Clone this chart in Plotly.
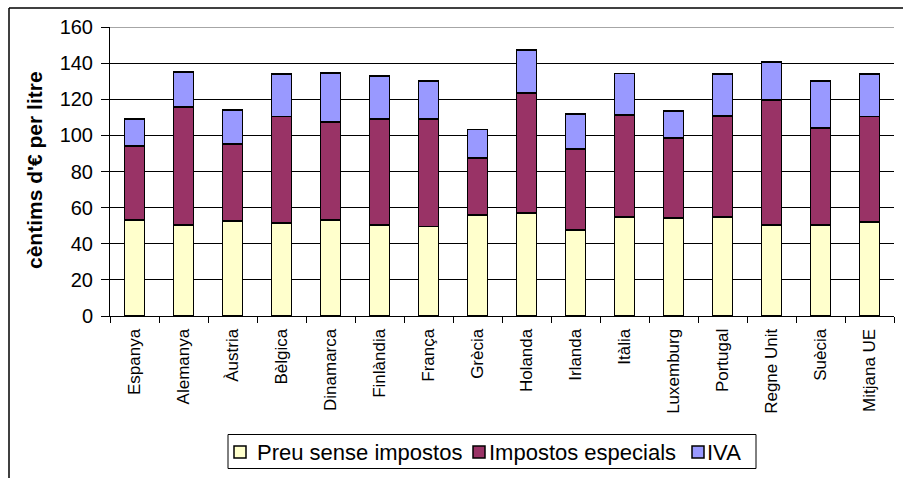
import plotly.graph_objects as go

# Fuel price breakdown per country (euro cents per litre)
countries = ["Espanya", "Alemanya", "Àustria", "Bèlgica", "Dinamarca", "Finlàndia",
             "França", "Grècia", "Holanda", "Irlanda", "Itàlia", "Luxemburg",
             "Portugal", "Regne Unit", "Suècia", "Mitjana UE"]
preu_sense_impostos = [53.3, 50.6, 52.4, 51.5, 53.3, 50.4, 49.6, 55.9,
                       57.0, 47.8, 54.8, 54.3, 54.6, 50.6, 50.4, 52.2]
impostos_especials = [40.8, 65.3, 42.8, 59.0, 54.1, 58.8, 59.3, 31.6,
                      66.3, 44.5, 56.5, 44.4, 56.3, 69.0, 53.5, 58.2]
iva = [15.1, 19.0, 19.0, 23.7, 27.1, 23.8, 21.4, 15.8,
       23.8, 19.5, 23.0, 15.0, 23.3, 21.0, 26.0, 23.4]

series_names = ["Preu sense impostos", "Impostos especials", "IVA"]
series_values = [preu_sense_impostos, impostos_especials, iva]
series_colors = ["#FFFFCC", "#993366", "#9999FF"]

W, H = 903, 478
L, R, T, B = 110, 9, 27, 162
PW, PH = W - L - R, H - T - B


def px(x):
    return (x - L) / PW


def py(y):
    return (H - B - y) / PH


fig = go.Figure()
for name, vals, color in zip(series_names, series_values, series_colors):
    fig.add_trace(go.Bar(
        x=countries, y=vals, name=name,
        marker=dict(color=color, line=dict(color="black", width=1.8)),
    ))

font_family = "Liberation Sans, Arial, sans-serif"

shapes = [
    # outer frame edges
    dict(type="line", xref="paper", yref="paper", x0=px(9), x1=px(903),
         y0=py(8), y1=py(8), line=dict(color="black", width=1.5)),
    dict(type="line", xref="paper", yref="paper", x0=px(9), x1=px(9),
         y0=py(8), y1=py(478), line=dict(color="black", width=1.5)),
    # top gridline drawn lighter
    dict(type="line", xref="paper", yref="y", x0=0, x1=1, y0=160, y1=160,
         line=dict(color="#888888", width=1.5)),
    # legend box
    dict(type="rect", xref="paper", yref="paper", x0=px(228), x1=px(756),
         y0=py(434.5), y1=py(468.5), line=dict(color="black", width=1),
         fillcolor="white", layer="above"),
]

annotations = [dict(
    text="<b>cèntims d'€ per litre</b>", textangle=-90,
    xref="paper", yref="paper", x=px(34), y=py(170), showarrow=False,
    xanchor="center", yanchor="middle", font=dict(size=21),
)]

# legend entries: swatch and label for each series
swatch_left = [234, 473, 692]
text_left = [255, 487, 705]
for name, color, sx, tx in zip(series_names, series_colors, swatch_left, text_left):
    shapes.append(dict(
        type="rect", xref="paper", yref="paper", x0=px(sx), x1=px(sx + 12),
        y0=py(446), y1=py(458), fillcolor=color,
        line=dict(color="black", width=1.5), layer="above",
    ))
    annotations.append(dict(
        text=name, xref="paper", yref="paper", x=px(tx), y=py(452),
        xanchor="left", yanchor="middle", showarrow=False,
        font=dict(size=22),
    ))

fig.update_layout(
    width=W, height=H,
    margin=dict(l=L, r=R, t=T, b=B, pad=0),
    paper_bgcolor="white", plot_bgcolor="white",
    barmode="stack", bargap=0.59,
    font=dict(family=font_family, color="black"),
    showlegend=False,
    xaxis=dict(
        type="category", tickangle=-90, tickson="boundaries",
        ticks="outside", ticklen=6, tickcolor="black", tickwidth=1,
        ticklabelstandoff=5,
        showline=True, linecolor="black", linewidth=1,
        showgrid=False, tickfont=dict(size=17), fixedrange=True,
    ),
    yaxis=dict(
        range=[0, 160], dtick=20, tickmode="linear",
        ticks="outside", ticklen=8, tickcolor="black", tickwidth=1,
        ticklabelstandoff=4,
        showline=True, linecolor="black", linewidth=1,
        showgrid=True, gridcolor="black", gridwidth=1,
        tickfont=dict(size=20), zeroline=False,
    ),
    annotations=annotations,
    shapes=shapes,
)

fig.write_html("out.html")
